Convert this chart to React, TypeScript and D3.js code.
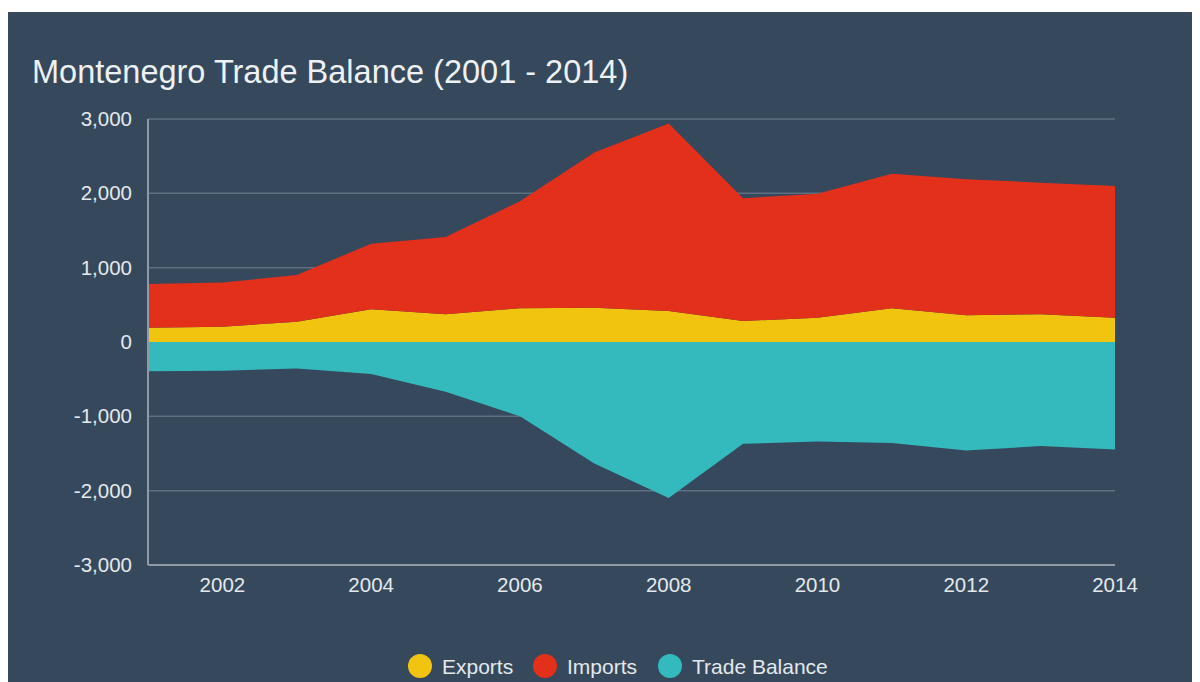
import React from "react";
import * as d3 from "d3";

const years = [2001, 2002, 2003, 2004, 2005, 2006, 2007, 2008, 2009, 2010, 2011, 2012, 2013, 2014];
const exportsVals = [192, 206, 273, 440, 373, 453, 462, 417, 283, 327, 454, 359, 373, 327];
const importsVals = [588, 594, 628, 883, 1040, 1440, 2086, 2521, 1650, 1669, 1811, 1831, 1771, 1773];
const balanceVals = [-393, -388, -357, -430, -670, -1000, -1635, -2100, -1370, -1337, -1360, -1460, -1400, -1446];
const yTicks = [-3000, -2000, -1000, 0, 1000, 2000, 3000];
const xTicks = [2002, 2004, 2006, 2008, 2010, 2012, 2014];
const seriesKeys = ["exports", "imports", "balance"];
const seriesNames = ["Exports", "Imports", "Trade Balance"];
const seriesColors = ["#f1c40f", "#e2301b", "#34b9bc"];

const FONT = "'Liberation Sans', Arial, sans-serif";

export default function App() {
  const W = 1192;
  const H = 674;
  // svg sits at page (8,8)
  const x0 = 148 - 8, x1 = 1115 - 8;
  const yTop = 119 - 8, yBot = 565 - 8;

  const x = d3.scaleLinear().domain([2001, 2014]).range([x0, x1]);
  const y = d3.scaleLinear().domain([-3000, 3000]).range([yBot, yTop]);

  const table = years.map((yr, i) => ({
    year: yr,
    exports: exportsVals[i],
    imports: importsVals[i],
    balance: balanceVals[i],
  }));
  const stack = d3.stack<any>().keys(seriesKeys).offset(d3.stackOffsetDiverging);
  const stacked = stack(table);
  const area = d3
    .area<any>()
    .x((d) => x(d.data.year))
    .y0((d) => y(d[0]))
    .y1((d) => y(d[1]));

  const fmt = (v: number) => d3.format(",")(v).replace("\u2212", "-");

  const legendX = [420 - 8, 545 - 8, 670 - 8];
  const legendY = 666 - 8;

  return (
    <svg width={W} height={H} style={{ display: "block" }}>
      <rect x={0} y={4} width={W} height={H - 4} fill="#35485c" />
      <text x={32 - 8} y={83 - 8} fill="#eef1f4" fontFamily={FONT} fontSize={32.5}>
        Montenegro Trade Balance (2001 - 2014)
      </text>
      {yTicks.map((t) => (
        <line
          key={"g" + t}
          x1={x0}
          x2={x1}
          y1={y(t)}
          y2={y(t)}
          stroke={t === -3000 ? "#8f9aa6" : "#5f6f80"}
          strokeWidth={t === -3000 ? 2 : 1.5}
        />
      ))}
      {stacked.map((s, i) => (
        <path key={s.key} d={area(s as any) || ""} fill={seriesColors[i]} />
      ))}
      <line x1={x0} x2={x0} y1={yTop} y2={yBot} stroke="#8f9aa6" strokeWidth={2} />
      {yTicks.map((t) => (
        <text
          key={"yl" + t}
          x={132 - 8}
          y={y(t) + 7}
          textAnchor="end"
          fill="#e4e8ec"
          fontFamily={FONT}
          fontSize={20.5}
        >
          {fmt(t)}
        </text>
      ))}
      {xTicks.map((t) => (
        <text
          key={"xl" + t}
          x={x(t)}
          y={592 - 8}
          textAnchor="middle"
          fill="#e4e8ec"
          fontFamily={FONT}
          fontSize={20.5}
        >
          {t}
        </text>
      ))}
      {seriesNames.map((n, i) => (
        <g key={n}>
          <circle cx={legendX[i]} cy={legendY} r={12} fill={seriesColors[i]} />
          <text
            x={legendX[i] + 22}
            y={legendY + 7.5}
            fill="#e4e8ec"
            fontFamily={FONT}
            fontSize={21}
          >
            {n}
          </text>
        </g>
      ))}
    </svg>
  );
}
